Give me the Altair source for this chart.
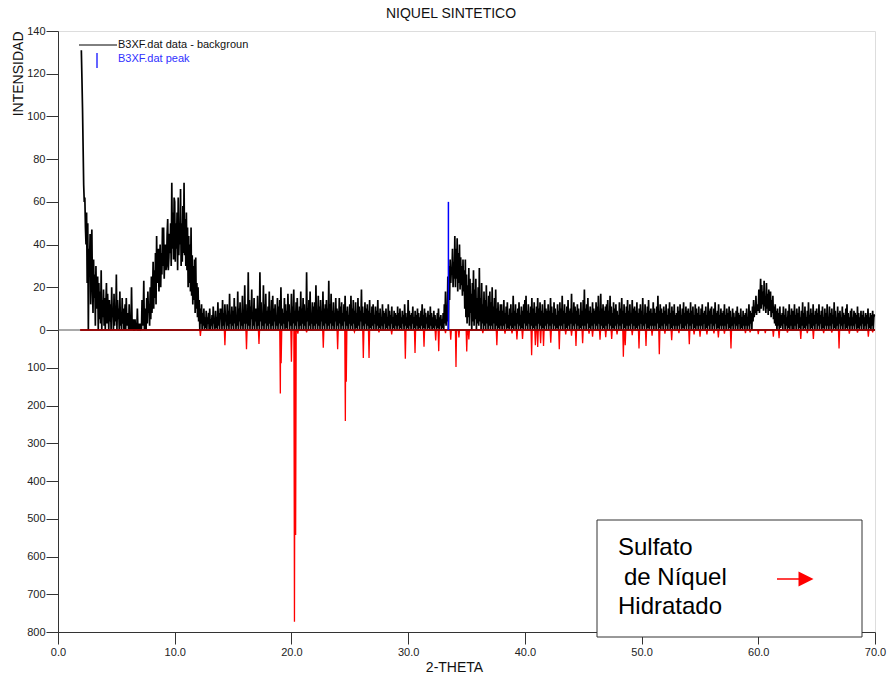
import altair as alt
import numpy as np
import pandas as pd

# Measured pattern B3XF.dat (data - background), 2-theta from 2.0 deg in 0.05 deg steps
intensity = [
    131, 118, 104, 86, 68, 60, 62, 48, 40, 55, 22, 50, 0, 38, 30, 45, 12, 35, 47, 20,   # 2
    8, 33, 15, 26, 2, 30, 10, 18, 25, 0, 22, 5, 18, 3, 28, 0, 14, 6, 19, 2,            # 3
    15, 0, 12, 22, 3, 17, 8, 0, 14, 4, 12, 0, 20, 6, 9, 0, 17, 2, 11, 4,               # 4
    26, 0, 14, 5, 10, 0, 18, 2, 7, 0, 15, 3, 10, 0, 6, 12, 0, 15, 2, 4,                # 5
    8, 0, 12, 0, 3, 0, 20, 2, 0, 5, 0, 0, 5, 0, 2, 0, 10, 0, 0, 3,                     # 6
    0, 0, 3, 0, 14, 2, 6, 23, 0, 10, 6, 0, 15, 3, 18, 8, 12, 2, 20, 5,                 # 7
    25, 8, 16, 32, 10, 28, 15, 36, 12, 44, 22, 30, 38, 18, 29, 40, 20, 36, 26, 48,     # 8
    30, 48, 24, 38, 40, 28, 30, 45, 52, 28, 34, 45, 36, 50, 30, 69, 38, 55, 33, 62,    # 9
    60, 32, 50, 38, 55, 28, 62, 35, 48, 40, 66, 30, 50, 32, 58, 36, 69, 35, 52, 30,    # 10
    55, 28, 48, 20, 44, 22, 40, 18, 48, 16, 35, 12, 30, 14, 33, 8, 34, 10, 22, 6,      # 11
    20, 4, 14, 0, 10, 3, 12, 0, 8, 2, 10, 0, 6, 1, 9, 0, 6, 3, 8, 0,                   # 12
    10, 0, 5, 2, 7, 0, 11, 3, 5, 0, 9, 1, 6, 0, 13, 2, 8, 0, 10, 5,                    # 13
    10, 0, 14, 2, 8, 0, 12, 4, 6, 0, 12, 2, 9, 0, 17, 3, 7, 0, 11, 2,                  # 14
    9, 0, 15, 3, 11, 0, 7, 2, 18, 0, 10, 4, 13, 0, 8, 2, 16, 0, 9, 3,                  # 15
    21, 0, 12, 3, 9, 0, 27, 2, 14, 0, 11, 5, 19, 0, 8, 2, 15, 0, 10, 4,                # 16
    10, 0, 16, 2, 9, 0, 27, 4, 13, 0, 8, 2, 21, 0, 12, 3, 17, 0, 9, 2,                 # 17
    11, 0, 18, 3, 9, 0, 14, 2, 16, 0, 10, 4, 12, 0, 7, 2, 15, 0, 11, 3,                # 18
    14, 0, 20, 2, 10, 0, 8, 3, 15, 0, 12, 1, 9, 0, 17, 4, 12, 0, 8, 2,                 # 19
    17, 0, 11, 3, 19, 0, 9, 2, 13, 0, 15, 4, 9, 0, 11, 2, 18, 0, 10, 3,                # 20
    15, 0, 12, 2, 9, 0, 27, 4, 10, 0, 14, 2, 18, 0, 8, 3, 13, 0, 11, 2,                # 21
    13, 0, 21, 3, 9, 0, 16, 2, 11, 0, 14, 4, 8, 0, 18, 2, 10, 0, 12, 3,                # 22
    14, 0, 10, 2, 23, 0, 12, 3, 17, 0, 9, 2, 13, 0, 8, 4, 15, 0, 10, 2,                # 23
    9, 0, 15, 3, 11, 0, 13, 2, 8, 0, 12, 4, 16, 0, 9, 2, 11, 0, 7, 3,                  # 24
    12, 0, 16, 2, 10, 0, 14, 3, 9, 0, 13, 1, 8, 0, 15, 2, 11, 0, 9, 4,                 # 25
    19, 0, 11, 2, 8, 0, 13, 3, 10, 0, 12, 2, 9, 0, 14, 1, 8, 0, 11, 2,                 # 26
    12, 0, 7, 3, 11, 0, 9, 2, 14, 0, 8, 1, 10, 0, 6, 2, 12, 0, 9, 3,                   # 27
    8, 0, 10, 1, 6, 0, 12, 2, 9, 0, 7, 3, 11, 0, 6, 1, 9, 0, 8, 2,                     # 28
    7, 0, 11, 2, 8, 0, 10, 1, 6, 0, 9, 3, 7, 0, 12, 2, 8, 0, 6, 1,                     # 29
    14, 0, 9, 2, 7, 0, 8, 3, 11, 0, 6, 1, 9, 0, 7, 2, 10, 0, 8, 1,                     # 30
    6, 0, 9, 2, 12, 0, 7, 1, 10, 0, 8, 3, 6, 0, 9, 1, 7, 0, 11, 2,                     # 31
    8, 0, 6, 1, 9, 0, 7, 2, 5, 0, 8, 1, 10, 0, 6, 2, 7, 0, 5, 1,                       # 32
    8, 0, 12, 3, 18, 2, 10, 4, 25, 0, 30, 14, 33, 22, 28, 26, 38, 20, 32, 24,          # 33
    44, 20, 38, 24, 43, 18, 36, 22, 40, 19, 34, 21, 30, 16, 33, 18, 28, 10, 33, 6,     # 34
    26, 3, 21, 6, 29, 2, 24, 8, 17, 0, 22, 4, 28, 2, 19, 5, 24, 0, 15, 3,              # 35
    20, 2, 29, 4, 15, 0, 22, 3, 12, 0, 18, 2, 14, 0, 21, 3, 11, 0, 16, 2,              # 36
    18, 0, 13, 2, 20, 0, 11, 3, 15, 0, 19, 2, 10, 0, 13, 1, 9, 0, 12, 2,               # 37
    12, 0, 9, 2, 14, 0, 8, 3, 11, 0, 13, 1, 7, 0, 10, 2, 12, 0, 8, 1,                  # 38
    16, 0, 9, 2, 12, 0, 8, 3, 10, 0, 13, 2, 7, 0, 11, 1, 9, 0, 12, 3,                  # 39
    14, 0, 16, 2, 9, 0, 12, 3, 8, 0, 11, 2, 15, 0, 10, 1, 13, 0, 8, 2,                 # 40
    11, 0, 15, 3, 10, 0, 13, 2, 9, 0, 12, 1, 8, 0, 14, 2, 10, 0, 9, 3,                 # 41
    12, 0, 9, 2, 15, 0, 11, 3, 8, 0, 13, 2, 10, 0, 7, 1, 12, 0, 9, 2,                  # 42
    13, 0, 10, 2, 16, 0, 9, 3, 12, 0, 8, 1, 11, 0, 14, 2, 9, 0, 10, 3,                 # 43
    17, 0, 8, 2, 13, 0, 11, 3, 9, 0, 12, 2, 10, 0, 7, 1, 13, 0, 9, 2,                  # 44
    14, 0, 19, 2, 10, 0, 12, 3, 15, 0, 9, 1, 11, 0, 8, 2, 13, 0, 10, 3,                # 45
    9, 0, 13, 2, 11, 0, 16, 3, 8, 0, 17, 2, 10, 0, 12, 1, 9, 0, 11, 2,                 # 46
    12, 0, 14, 3, 9, 0, 16, 2, 11, 0, 8, 1, 13, 0, 10, 2, 12, 0, 9, 3,                 # 47
    7, 0, 13, 2, 10, 0, 15, 3, 9, 0, 12, 1, 8, 0, 11, 2, 14, 0, 9, 2,                  # 48
    12, 0, 8, 3, 14, 0, 10, 2, 11, 0, 9, 1, 13, 0, 8, 2, 10, 0, 12, 3,                 # 49
    9, 0, 15, 2, 7, 0, 12, 3, 8, 0, 11, 1, 14, 0, 9, 2, 10, 0, 8, 2,                   # 50
    13, 0, 10, 2, 8, 0, 11, 3, 16, 0, 9, 1, 12, 0, 10, 2, 8, 0, 11, 3,                 # 51
    9, 0, 12, 2, 7, 0, 10, 3, 13, 0, 8, 1, 11, 0, 9, 2, 12, 0, 7, 2,                   # 52
    8, 0, 11, 2, 9, 0, 12, 3, 7, 0, 10, 1, 13, 0, 8, 2, 11, 0, 9, 3,                   # 53
    10, 0, 8, 2, 13, 0, 9, 3, 11, 0, 7, 1, 12, 0, 10, 2, 8, 0, 11, 2,                  # 54
    7, 0, 10, 2, 12, 0, 8, 3, 9, 0, 11, 1, 7, 0, 13, 2, 9, 0, 10, 3,                   # 55
    11, 0, 7, 2, 10, 0, 13, 3, 8, 0, 9, 1, 12, 0, 7, 2, 10, 0, 8, 2,                   # 56
    9, 0, 12, 2, 7, 0, 10, 3, 8, 0, 11, 1, 9, 0, 6, 2, 10, 0, 8, 3,                    # 57
    6, 0, 9, 2, 11, 0, 8, 3, 7, 0, 10, 1, 6, 0, 9, 2, 7, 0, 8, 2,                      # 58
    10, 0, 6, 2, 12, 0, 9, 3, 8, 0, 11, 4, 14, 6, 10, 8, 16, 7, 12, 9,                 # 59
    10, 19, 8, 14, 24, 10, 21, 12, 18, 9, 23, 11, 15, 8, 22, 10, 17, 7, 19, 9,         # 60
    11, 18, 6, 14, 8, 16, 5, 11, 3, 12, 2, 9, 0, 10, 2, 8, 0, 11, 1, 7,                # 61
    2, 8, 0, 11, 3, 7, 0, 10, 2, 6, 0, 9, 1, 12, 0, 7, 2, 10, 0, 6,                    # 62
    9, 0, 12, 2, 7, 0, 10, 3, 8, 0, 11, 1, 6, 0, 9, 2, 13, 0, 8, 1,                    # 63
    11, 0, 6, 2, 9, 0, 13, 3, 7, 0, 10, 1, 8, 0, 12, 2, 7, 0, 9, 3,                    # 64
    10, 0, 8, 2, 12, 0, 7, 3, 9, 0, 11, 1, 6, 0, 10, 2, 8, 0, 12, 2,                   # 65
    6, 0, 11, 2, 8, 0, 10, 3, 7, 0, 13, 1, 9, 0, 6, 2, 11, 0, 8, 3,                    # 66
    9, 0, 6, 2, 11, 0, 8, 3, 7, 0, 10, 1, 12, 0, 8, 2, 6, 0, 9, 2,                     # 67
    10, 0, 6, 2, 9, 0, 8, 3, 7, 0, 11, 1, 8, 0, 6, 2, 9, 0, 7, 3,                      # 68
    9, 0, 6, 2, 8, 0, 7, 3, 10, 0, 6, 1, 8, 0, 7, 2, 9, 0, 6, 7,                       # 69
    7,                                                                                 # 70
]
two_theta = np.round(2.0 + 0.05 * np.arange(len(intensity)), 2)

# Reference pattern: nickel sulfate hydrate, drawn downward from zero
ref_positions = [
    12.2, 14.3, 16.15, 17.22, 19.05, 19.12, 20.0, 20.26, 20.36, 20.55,
    21.3, 22.73, 23.96, 24.62, 24.7, 25.4, 26.16, 26.65, 27.5, 28.59,
    29.76, 30.59, 31.36, 32.36, 32.62, 33.2, 33.65, 34.1, 34.35, 35.02,
    35.2, 36.4, 37.6, 38.3, 38.9, 39.32, 39.8, 40.58, 40.9, 41.1,
    41.35, 41.6, 42.22, 42.95, 43.5, 44.0, 44.38, 44.95, 45.5, 45.8,
    46.44, 46.93, 47.44, 47.9, 48.44, 48.6, 49.2, 49.78, 50.38, 50.9,
    51.52, 52.0, 52.58, 53.2, 54.09, 54.5, 55.01, 55.6, 56.2, 56.58,
    57.1, 57.66, 58.9, 59.3, 60.0, 60.6, 61.29, 61.78, 62.5, 63.64,
    64.2, 64.72, 65.6, 66.3, 66.92, 67.8, 68.5, 69.43, 69.8,
]
ref_heights = [
    16, 40, 51, 37, 168, 88, 84, 773, 543, 10,
    6, 47, 51, 241, 137, 5, 74, 74, 6, 12,
    76, 61, 44, 28, 56, 8, 26, 98, 20, 57,
    25, 8, 40, 10, 9, 25, 24, 67, 40, 45,
    35, 42, 34, 51, 12, 15, 42, 35, 10, 18,
    26, 19, 24, 12, 71, 40, 14, 49, 42, 15,
    64, 10, 27, 8, 38, 12, 18, 12, 9, 20,
    10, 49, 8, 6, 11, 8, 18, 22, 7, 24,
    8, 24, 8, 7, 49, 10, 7, 18, 6,
]

# Fitted peak marker
peak_position = [33.45]
peak_height = [60]

x_ticks = [0, 10, 20, 30, 40, 50, 60, 70]
y_ticks = [-800, -700, -600, -500, -400, -300, -200, -100,
           0, 20, 40, 60, 80, 100, 120, 140]

FONT = "Liberation Sans"
W, H = 817, 601

spec_df = pd.DataFrame({"two_theta": two_theta, "intensity": intensity})

ref_rows = [(1.9, 0.0)]
for p, h in zip(ref_positions, ref_heights):
    ref_rows += [(p - 0.05, 0.0), (p, -float(h)), (p + 0.05, 0.0)]
ref_rows.append((70.0, 0.0))
ref_df = pd.DataFrame(ref_rows, columns=["two_theta", "intensity"])

peak_df = pd.DataFrame({"two_theta": peak_position,
                        "intensity": [0] * len(peak_position),
                        "intensity_top": peak_height})
base_df = pd.DataFrame({"two_theta": [1.9], "two_theta_end": [70.0], "intensity": [0]})
one = pd.DataFrame({"k": [0]})

# Upper half (0-140) and lower half (0-800, inverted) on one piecewise scale
x_scale = alt.Scale(domain=[0, 70], nice=False, zero=False)
y_scale = alt.Scale(domain=[-800, 0, 140], range=[H, 299, 0], nice=False, zero=False)

axis_common = dict(
    grid=False, domainColor="#333", tickColor="#333", labelColor="#222",
    labelFont=FONT, labelFontSize=11, titleFont=FONT, titleFontSize=14,
    titleFontWeight="normal", titleColor="#111", tickSize=12,
    labelFlush=False, labelOverlap=False,
)

x_axis = alt.Axis(values=x_ticks, format=".1f", title="2-THETA", labelPadding=2,
                  titleX=396, titleY=35, titleAlign="center", titleBaseline="middle",
                  **axis_common)
y_axis = alt.Axis(values=y_ticks, labelExpr="format(abs(datum.value), 'd')",
                  title="INTENSIDAD", labelPadding=1, titleAngle=270,
                  titleX=-40, titleY=0, titleAlign="right", titleBaseline="middle",
                  **axis_common)

zero_line = alt.Chart(pd.DataFrame({"intensity": [0]})).mark_rule(
    color="#555", strokeWidth=1
).encode(y=alt.Y("intensity:Q", scale=y_scale, axis=y_axis))

measured = alt.Chart(spec_df).mark_line(
    color="black", strokeWidth=1.7, strokeJoin="miter", strokeMiterLimit=2
).encode(
    x=alt.X("two_theta:Q", scale=x_scale, axis=x_axis),
    y=alt.Y("intensity:Q", scale=y_scale),
)

reference = alt.Chart(ref_df).mark_line(color="#ff0000", strokeWidth=1.3).encode(
    x="two_theta:Q", y="intensity:Q"
)

baseline = alt.Chart(base_df).mark_rule(color="#7a0000", strokeWidth=1.5).encode(
    x="two_theta:Q", x2="two_theta_end:Q", y="intensity:Q"
)

peak_marker = alt.Chart(peak_df).mark_rule(color="#0000ff", strokeWidth=1.5).encode(
    x="two_theta:Q", y="intensity:Q", y2="intensity_top:Q"
)

# Key in the upper-left corner
key_line = alt.Chart(one).mark_rule(color="black", strokeWidth=1).encode(
    x=alt.value(21), x2=alt.value(59), y=alt.value(14)
)
key_tick = alt.Chart(one).mark_rule(color="#3030ff", strokeWidth=1.5).encode(
    x=alt.value(39), y=alt.value(22), y2=alt.value(37)
)
key_text1 = alt.Chart(one).mark_text(
    align="left", baseline="middle", font=FONT, fontSize=11, color="#111"
).encode(x=alt.value(60), y=alt.value(14), text=alt.value("B3XF.dat data - backgroun"))
key_text2 = alt.Chart(one).mark_text(
    align="left", baseline="middle", font=FONT, fontSize=11, color="#3030ff"
).encode(x=alt.value(60), y=alt.value(28), text=alt.value("B3XF.dat peak"))

# Annotation box for the reference phase
box = alt.Chart(one).mark_rect(fill="white", stroke="#333", strokeWidth=1).encode(
    x=alt.value(539), x2=alt.value(804), y=alt.value(489), y2=alt.value(606)
)
box_lines = []
for txt, dx, dy in [("Sulfato", 560, 517), ("de Níquel", 566, 547), ("Hidratado", 560, 576)]:
    box_lines.append(
        alt.Chart(one).mark_text(
            align="left", baseline="middle", font=FONT, fontSize=24, color="black"
        ).encode(x=alt.value(dx), y=alt.value(dy), text=alt.value(txt))
    )
arrow_shaft = alt.Chart(one).mark_rule(color="#ff0000", strokeWidth=1.5).encode(
    x=alt.value(719), x2=alt.value(742), y=alt.value(548)
)
arrow_head = alt.Chart(one).mark_point(
    shape="M -1 -1 L 1 0 L -1 1 Z", size=225, filled=True, color="#ff0000", opacity=1
).encode(x=alt.value(748), y=alt.value(548))

title = alt.Chart(one).mark_text(
    align="center", baseline="middle", font=FONT, fontSize=14, color="#111"
).encode(x=alt.value(393), y=alt.value(-17), text=alt.value("NIQUEL SINTETICO"))

chart = alt.layer(
    zero_line, measured, reference, baseline, peak_marker,
    key_line, key_tick, key_text1, key_text2,
    box, *box_lines, arrow_shaft, arrow_head, title,
).properties(
    width=W, height=H,
    autosize=alt.AutoSizeParams(type="none"),
    padding={"left": 58, "top": 31, "right": 14, "bottom": 44},
).configure_view(stroke="#333", strokeWidth=1).configure(background="white")

chart.save("out.html", embed_options={"renderer": "svg", "actions": False})
